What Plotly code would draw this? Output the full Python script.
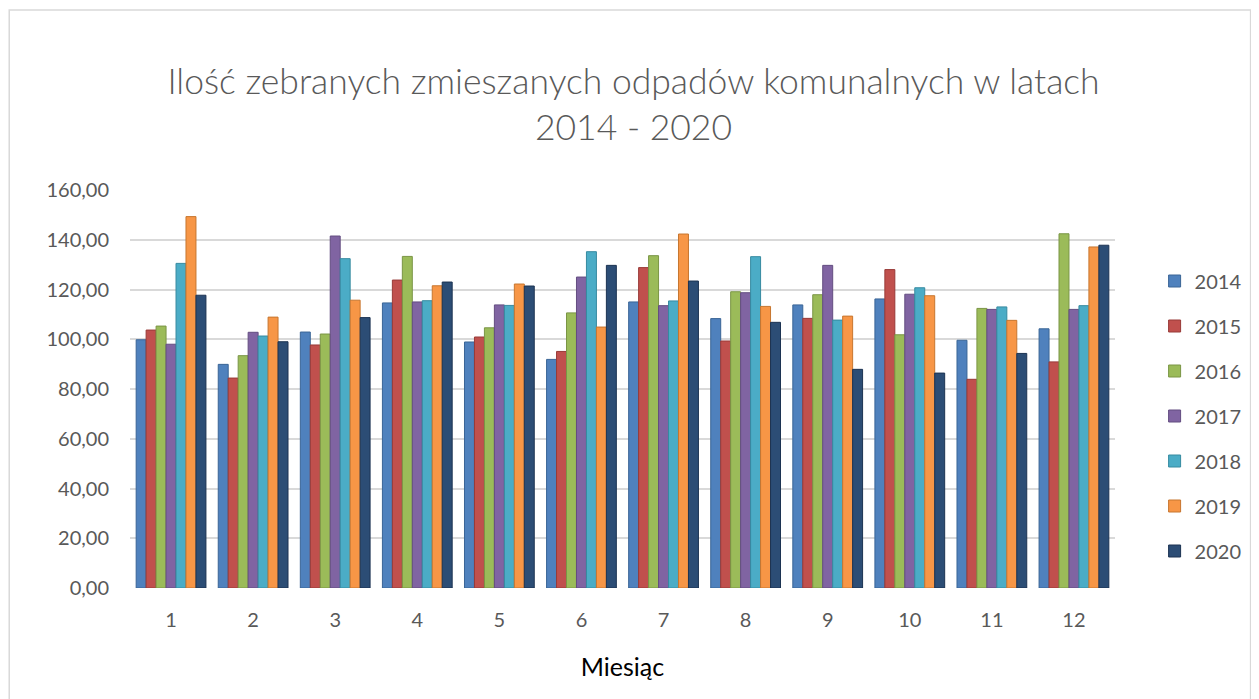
import plotly.graph_objects as go

months = ["1", "2", "3", "4", "5", "6", "7", "8", "9", "10", "11", "12"]
years = ["2014", "2015", "2016", "2017", "2018", "2019", "2020"]

v2014 = [99.8, 89.9, 102.9, 114.6, 98.9, 91.9, 115.0, 108.3, 113.8, 116.2, 99.6, 104.2]
v2015 = [103.7, 84.4, 97.7, 123.8, 100.9, 95.1, 128.8, 99.3, 108.4, 128.0, 83.9, 90.9]
v2016 = [105.3, 93.4, 102.1, 133.3, 104.6, 110.6, 133.6, 119.1, 117.9, 101.8, 112.4, 142.4]
v2017 = [98.0, 102.8, 141.5, 115.0, 113.8, 125.0, 113.5, 118.7, 129.7, 118.1, 112.0, 112.0]
v2018 = [130.5, 101.3, 132.4, 115.5, 113.6, 135.2, 115.4, 133.2, 107.7, 120.7, 113.0, 113.5]
v2019 = [149.3, 108.9, 115.7, 121.5, 122.2, 104.9, 142.3, 113.2, 109.3, 117.5, 107.6, 137.1]
v2020 = [117.7, 99.0, 108.7, 123.0, 121.4, 129.7, 123.4, 106.8, 87.9, 86.4, 94.3, 137.8]

series = [v2014, v2015, v2016, v2017, v2018, v2019, v2020]
colors = ["#4f81bd", "#c0504d", "#9bbb59", "#8064a2", "#4bacc6", "#f79646", "#2c4d75"]
edge = ["#3a6596", "#983a38", "#7a9545", "#634d80", "#368aa0", "#c7762f", "#1c3352"]

ytick_vals = [0, 20, 40, 60, 80, 100, 120, 140, 160]
ytick_text = ["0,00", "20,00", "40,00", "60,00", "80,00", "100,00", "120,00", "140,00", "160,00"]

fig = go.Figure()
for i, (yr, vals) in enumerate(zip(years, series)):
    fig.add_trace(go.Bar(
        x=months, y=vals, name=yr,
        marker=dict(color=colors[i], line=dict(color=edge[i], width=1)),
        legendgroup=yr,
    ))

# page offset caused by the default body margin
OFF = 8
FW, FH = 1259 - OFF, 699 - OFF
# plot area in page pixels
L, R, T, B = 130, 1125, 190, 588
W, H = R - L, B - T
def px_x(p):
    return (p - L) / W
def px_y(p):
    return (B - p) / H

fig.add_shape(type="rect", xref="paper", yref="paper",
              x0=px_x(8), x1=px_x(1262), y0=px_y(702), y1=px_y(10),
              line=dict(color="#d9d9d9", width=1.5), fillcolor="rgba(0,0,0,0)", layer="below")

fig.update_layout(
    width=FW, height=FH,
    margin=dict(l=L - OFF, r=1259 - R, t=T - OFF, b=699 - B),
    paper_bgcolor="white", plot_bgcolor="white",
    barmode="group", bargap=0.15, bargroupgap=0.0,
    title=dict(
        text="Ilość zebranych zmieszanych odpadów komunalnych w latach<br>2014 - 2020",
        x=0.5, xanchor="center", y=1 - (94 - OFF) / FH, yanchor="middle",
        font=dict(family="Lato, Open Sans, sans-serif", size=35.5, color="#595959", weight=300),
    ),
    font=dict(family="Lato, Open Sans, sans-serif", color="#595959"),
    xaxis=dict(
        type="category", showgrid=False, zeroline=False, showline=False,
        ticks="", tickfont=dict(size=20, color="#595959"), ticklabelstandoff=18,
        title=dict(text="Miesiąc", font=dict(size=25, color="#000000"), standoff=28),
    ),
    yaxis=dict(
        range=[0, 160], tickvals=ytick_vals, ticktext=ytick_text,
        showgrid=True, gridcolor="#d9d9d9", gridwidth=2, zeroline=False,
        showline=False, ticks="", tickfont=dict(size=20, color="#595959"),
        ticklabelstandoff=20,
    ),
    legend=dict(
        x=px_x(1165), xanchor="left", y=px_y(416), yanchor="middle",
        font=dict(size=20, color="#595959"), tracegroupgap=16,
        itemwidth=30,
    ),
    showlegend=True,
)

fig.write_html("out.html")
